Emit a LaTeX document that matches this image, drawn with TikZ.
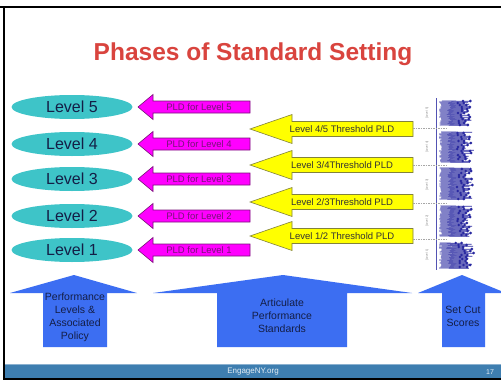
\documentclass[tikz,border=0pt]{standalone}
\usepackage{fontspec}
\setmainfont{Liberation Sans}
\usetikzlibrary{shapes.geometric}
\definecolor{titlered}{RGB}{217,68,62}
\definecolor{teal}{RGB}{62,196,200}
\definecolor{mag}{RGB}{255,0,255}
\definecolor{magline}{RGB}{120,20,120}
\definecolor{yel}{RGB}{255,255,0}
\definecolor{yelline}{RGB}{130,130,60}
\definecolor{bluea}{RGB}{60,110,242}
\definecolor{navy}{RGB}{20,30,70}
\definecolor{pinblue}{RGB}{40,40,160}
\definecolor{footer}{RGB}{62,126,176}
\tikzset{
  levelell/.style={ellipse, fill=teal, minimum width=121pt, minimum height=24pt, inner sep=0pt, text=navy, font=\fontsize{16}{16}\selectfont},
  magarrow/.style={fill=mag, draw=magline, line width=0.6pt},
  magtext/.style={text=magline, font=\fontsize{9.5}{9.5}\selectfont, inner sep=0pt},
  yelarrow/.style={fill=yel, draw=yelline, line width=0.6pt},
  yeltext/.style={text=black!80, font=\fontsize{9.5}{9.5}\selectfont, inner sep=0pt},
  bluearrow/.style={fill=bluea},
  bluetext/.style={text=navy, font=\fontsize{10.5}{13}\selectfont, align=center, inner sep=0pt},
  pin/.style={draw=pinblue, line width=0.8pt},
  cutline/.style={draw=gray!70, line width=0.4pt, dash pattern=on 1.5pt off 1pt},
  axislabel/.style={text=gray, font=\fontsize{3}{3}\selectfont, rotate=90, inner sep=0pt}
}
\begin{document}
\begin{tikzpicture}[x=1pt,y=-1pt]
\useasboundingbox (0,0) rectangle (501,380);
\fill[white] (0,0) rectangle (501,380);
% frame
\fill[black] (0,6) rectangle (501,8);
\fill[black] (3,6) rectangle (5,380);
% title
\node[text=titlered, font=\bfseries\fontsize{24.5}{24.5}\selectfont] (title) at (253,54) {Phases of Standard Setting};
% ellipses
\foreach \n/\y in {5/107,4/144,3/179,2/216,1/250}{
  \node[levelell] (L\n) at (72,\y) {Level \n};
}
% magenta arrows
\foreach \n/\c in {5/107,4/144,3/179,2/216,1/250}{
  \draw[magarrow] (138,\c) -- (153,\c-12.5) -- (153,\c-6) -- (250,\c-6) -- (250,\c+6) -- (153,\c+6) -- (153,\c+12.5) -- cycle;
  \node[magtext] (P\n) at (199,\c) {PLD for Level \n};
}
% yellow arrows
\foreach \n/\c/\t in {45/129/{Level 4/5 Threshold PLD},34/165/{Level 3/4Threshold PLD},23/202/{Level 2/3Threshold PLD},12/236/{Level 1/2 Threshold PLD}}{
  \draw[yelarrow] (250,\c) -- (292,\c-14.5) -- (292,\c-7.5) -- (413,\c-7.5) -- (413,\c+7.5) -- (292,\c+7.5) -- (292,\c+14.5) -- cycle;
  \node[yeltext] (T\n) at (342,\c) {\t};
}
% right graphic: axis
\coordinate (axtop) at (436,98);
\coordinate (axbot) at (436,270);
\draw[pinblue!80, line width=0.8pt] (axtop) -- (axbot);
\foreach \c in {128,165,203,239}{
  \draw[cutline] (413,\c) -- (447,\c);
}
\foreach \n/\y in {5/113,4/147,3/185,2/221,1/255}{
  \node[axislabel] (A\n) at (427,\y) {[Level \n]};
}
% pins
\pgfmathsetseed{11}
\foreach \ya/\yb in {101/125,132/162,168/199,206/236,243/268}{
  \foreach \y in {\ya,...,\yb}{
    \pgfmathsetmacro{\len}{22+10*rnd}
    \pgfmathsetmacro{\st}{439+3*rnd}
    \pgfmathsetmacro{\md}{\st+\len*(0.7+0.12*rnd)}
    \draw[pin] (\st,\y) -- (\st+\len,\y+0.3);
    \ifodd\y
      \fill[pinblue] (\st+\len,\y) circle (1.5);
      \fill[pinblue] (\md,\y) circle (1.4);
    \fi
  }
}
% blue up arrows
\fill[bluearrow] (74,275) -- (137,293) -- (107,293) -- (107,347) -- (43,347) -- (43,293) -- (10,293) -- cycle;
\node[bluetext] (B1) at (75,317) {Performance\\Levels \&\\Associated\\Policy};
\fill[bluearrow] (283,275) -- (412,293) -- (347,293) -- (347,347) -- (217,347) -- (217,293) -- (153,293) -- cycle;
\node[bluetext] (B2) at (282,316) {Articulate\\Performance\\Standards};
\fill[bluearrow] (462,275) -- (501,291) -- (501,293) -- (485,293) -- (485,347) -- (442,347) -- (442,293) -- (418,293) -- cycle;
\node[bluetext] (B3) at (463,316) {Set Cut\\Scores};
% footer
\fill[footer] (5,364) rectangle (501,378);
\fill[footer!60!white] (5,364) rectangle (501,365);
\fill[black] (3,378) rectangle (501,380);
\node[text=white!85!footer, font=\fontsize{8}{8}\selectfont, inner sep=0pt] (foot) at (253,372) {EngageNY.org};
\node[text=white!85!footer, font=\fontsize{7}{7}\selectfont, inner sep=0pt] (pg) at (490,372) {17};
\end{tikzpicture}
\end{document}
